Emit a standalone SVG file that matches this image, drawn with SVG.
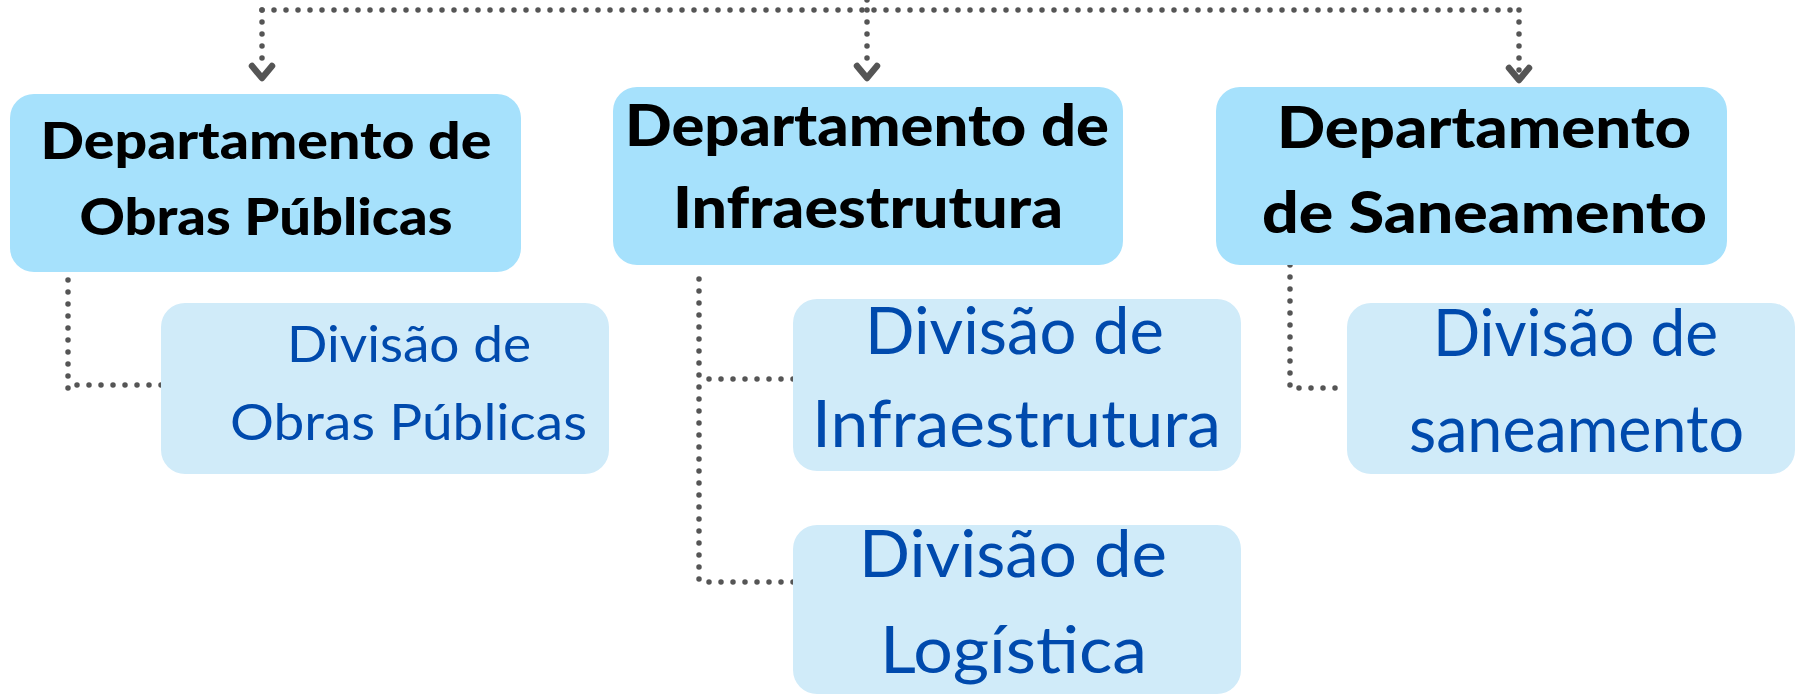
<svg xmlns="http://www.w3.org/2000/svg" width="1797" height="694" viewBox="0 0 1797 694">
<defs>
<style>
.dept{fill:#A6E1FC;}
.div{fill:#D0EBF9;}
.dt{font-family:Lato,"Liberation Sans",sans-serif;font-weight:900;fill:#000;text-anchor:middle;}
.vt{font-family:Lato,"Liberation Sans",sans-serif;font-weight:400;fill:#004AAD;text-anchor:middle;}
.dot{fill:none;stroke:#555555;stroke-width:5.5;stroke-linecap:round;stroke-dasharray:0 12;}
.chev{fill:none;stroke:#555555;stroke-width:6.5;stroke-linecap:round;stroke-linejoin:round;}
</style>
</defs>
<rect width="1797" height="694" fill="#ffffff"/>
<g id="connectors">
<path class="dot" d="M262 10 H1519"/>
<path class="dot" d="M867 0 V10"/>
<path class="dot" d="M262 10 V70"/>
<path class="dot" d="M867 10 V70"/>
<path class="dot" d="M1519 10 V72"/>
<path class="chev" d="M252 66 L262 78 L272 66"/>
<path class="chev" d="M857 66 L867 78 L877 66"/>
<path class="chev" d="M1509 68 L1519 80 L1529 68"/>
<path class="dot" d="M68 268 V392"/>
<path class="dot" d="M161 385 H68"/>
<path class="dot" d="M699 279 V587"/>
<path class="dot" d="M793 379 H699"/>
<path class="dot" d="M793 582 H699"/>
<path class="dot" d="M1290 265 V388 H1347"/>
</g>
<g id="dept-obras">
<rect class="dept" x="10" y="94" width="511" height="178" rx="24"/>
<text class="dt" x="266" y="159" font-size="52" textLength="451" lengthAdjust="spacingAndGlyphs">Departamento de</text>
<text class="dt" x="266" y="235" font-size="52" textLength="373" lengthAdjust="spacingAndGlyphs">Obras Públicas</text>
</g>
<g id="dept-infra">
<rect class="dept" x="613" y="87" width="510" height="178" rx="24"/>
<text class="dt" x="867" y="146" font-size="57" textLength="484" lengthAdjust="spacingAndGlyphs">Departamento de</text>
<text class="dt" x="868" y="228" font-size="57" textLength="390" lengthAdjust="spacingAndGlyphs">Infraestrutura</text>
</g>
<g id="dept-saneamento">
<rect class="dept" x="1216" y="87" width="511" height="178" rx="24"/>
<text class="dt" x="1484" y="148" font-size="57" textLength="414" lengthAdjust="spacingAndGlyphs">Departamento</text>
<text class="dt" x="1484.5" y="233" font-size="57" textLength="445" lengthAdjust="spacingAndGlyphs">de Saneamento</text>
</g>
<g id="div-obras">
<rect class="div" x="161" y="303" width="448" height="171" rx="24"/>
<text class="vt" x="409" y="362" font-size="51" textLength="244" lengthAdjust="spacingAndGlyphs">Divisão de</text>
<text class="vt" x="408.5" y="440" font-size="51" textLength="357" lengthAdjust="spacingAndGlyphs">Obras Públicas</text>
</g>
<g id="div-infra">
<rect class="div" x="793" y="299" width="448" height="172" rx="24"/>
<text class="vt" x="1014.5" y="354" font-size="65" textLength="299" lengthAdjust="spacingAndGlyphs">Divisão de</text>
<text class="vt" x="1016.5" y="447" font-size="65" textLength="409" lengthAdjust="spacingAndGlyphs">Infraestrutura</text>
</g>
<g id="div-logistica">
<rect class="div" x="793" y="525" width="448" height="169" rx="24"/>
<text class="vt" x="1013" y="577" font-size="65" textLength="308" lengthAdjust="spacingAndGlyphs">Divisão de</text>
<text class="vt" x="1013.5" y="673" font-size="65" textLength="267" lengthAdjust="spacingAndGlyphs">Logística</text>
</g>
<g id="div-saneamento">
<rect class="div" x="1347" y="303" width="448" height="171" rx="24"/>
<text class="vt" x="1575.5" y="356" font-size="65" textLength="285" lengthAdjust="spacingAndGlyphs">Divisão de</text>
<text class="vt" x="1576.5" y="452" font-size="65" textLength="335" lengthAdjust="spacingAndGlyphs">saneamento</text>
</g>
</svg>
